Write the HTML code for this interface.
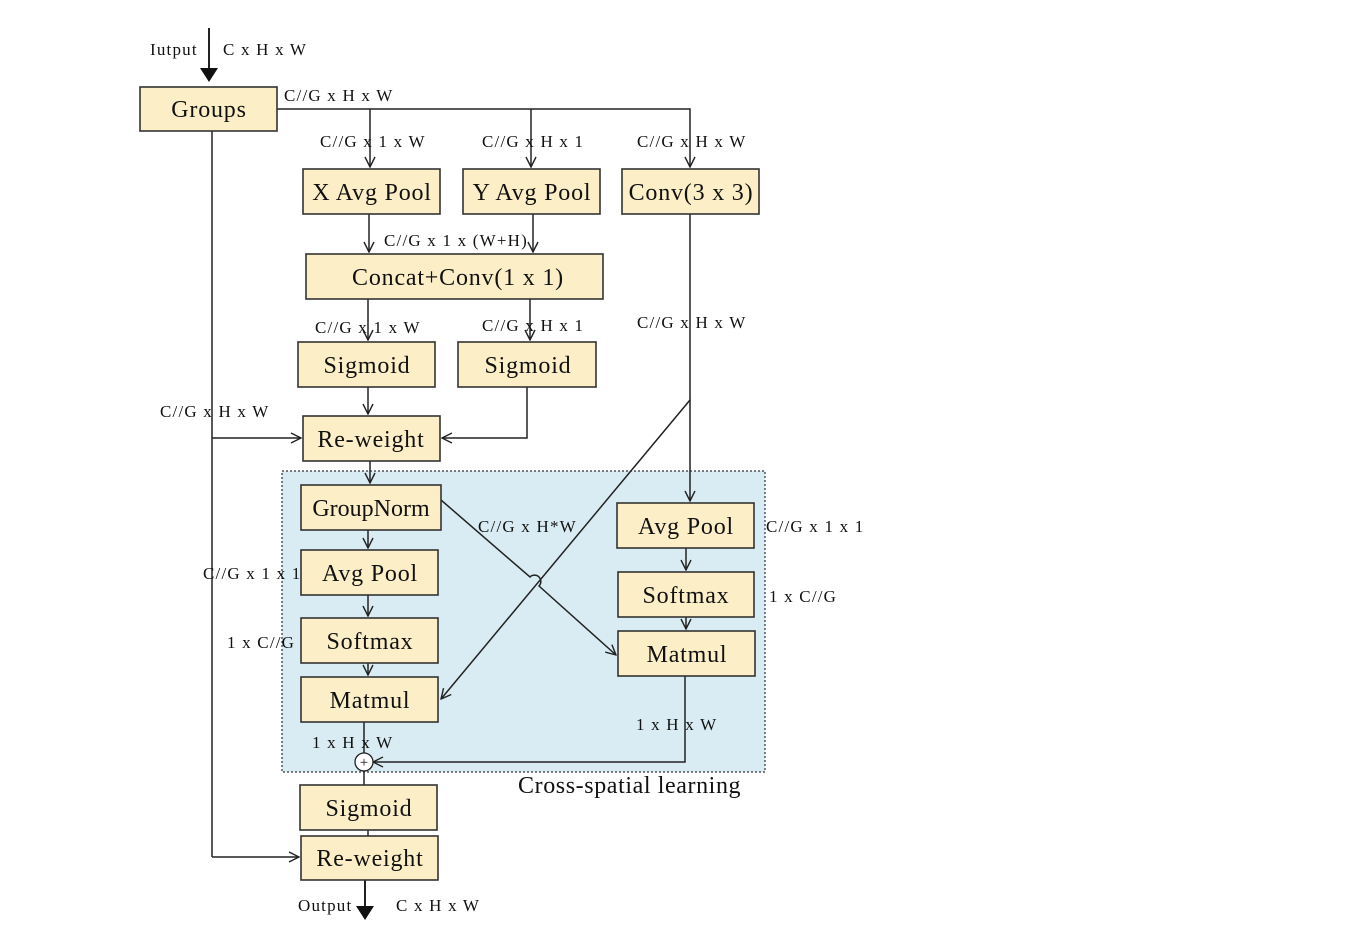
<!DOCTYPE html>
<html><head><meta charset="utf-8"><style>
html,body{margin:0;padding:0;background:#fff;}
svg{display:block;}
text{font-family:"Liberation Serif",serif;fill:#111;}
.l{font-size:17px;letter-spacing:1.2px;}
.b{font-size:24px;text-anchor:middle;letter-spacing:0.8px;}
rect.n{fill:#fcefc7;stroke:#333;stroke-width:1.6;}
line,polyline,path.w{stroke:#222;stroke-width:1.5;fill:none;}
</style></head><body>
<svg width="1354" height="940" viewBox="0 0 1354 940" xmlns="http://www.w3.org/2000/svg">
<defs>
<marker id="o" viewBox="0 0 12 12" refX="11" refY="6" markerWidth="12" markerHeight="12" markerUnits="userSpaceOnUse" orient="auto"><polyline points="1,1 11,6 1,11" style="stroke:#222;stroke-width:1.4;fill:none"/></marker>
<marker id="f" viewBox="0 0 14 20" refX="10" refY="10" markerWidth="14" markerHeight="20" markerUnits="userSpaceOnUse" orient="auto"><polygon points="0,1 14,10 0,19" fill="#111"/></marker>
</defs>
<rect x="282" y="471" width="483" height="301" fill="#d9ecf3" stroke="#333" stroke-width="1.2" stroke-dasharray="2,2"/>

<line x1="209" y1="28" x2="209" y2="78" style="stroke-width:2" marker-end="url(#f)"/>
<polyline points="277,109 690,109 690,167" marker-end="url(#o)"/>
<line x1="370" y1="109" x2="370" y2="167" marker-end="url(#o)"/>
<line x1="531" y1="109" x2="531" y2="167" marker-end="url(#o)"/>
<line x1="212" y1="131" x2="212" y2="857"/>
<line x1="212" y1="438" x2="301" y2="438" marker-end="url(#o)"/>
<line x1="212" y1="857" x2="299" y2="857" marker-end="url(#o)"/>
<line x1="369" y1="214" x2="369" y2="252" marker-end="url(#o)"/>
<line x1="533" y1="214" x2="533" y2="252" marker-end="url(#o)"/>
<line x1="368" y1="299" x2="368" y2="340" marker-end="url(#o)"/>
<line x1="530" y1="299" x2="530" y2="340" marker-end="url(#o)"/>
<line x1="368" y1="387" x2="368" y2="414" marker-end="url(#o)"/>
<polyline points="527,387 527,438 442,438" marker-end="url(#o)"/>
<line x1="370" y1="461" x2="370" y2="483" marker-end="url(#o)"/>
<line x1="368" y1="530" x2="368" y2="548" marker-end="url(#o)"/>
<line x1="368" y1="595" x2="368" y2="616" marker-end="url(#o)"/>
<line x1="368" y1="663" x2="368" y2="675" marker-end="url(#o)"/>
<line x1="690" y1="214" x2="690" y2="501" marker-end="url(#o)"/>
<line x1="690" y1="400" x2="441" y2="699" marker-end="url(#o)"/>
<path class="w" d="M441,500 L530,577 A6,6 0 0 1 539,586 L616,655" marker-end="url(#o)"/>
<line x1="686" y1="548" x2="686" y2="570" marker-end="url(#o)"/>
<line x1="686" y1="617" x2="686" y2="629" marker-end="url(#o)"/>
<polyline points="685,676 685,762 373,762" marker-end="url(#o)"/>
<line x1="364" y1="722" x2="364" y2="753"/>
<line x1="364" y1="771" x2="364" y2="785"/>
<line x1="368" y1="830" x2="368" y2="836"/>
<line x1="365" y1="880" x2="365" y2="916" style="stroke-width:2" marker-end="url(#f)"/>
<circle cx="364" cy="762" r="9" fill="#fff" stroke="#222" stroke-width="1.3"/>
<text x="364" y="767" style="font-size:15px;text-anchor:middle">+</text>

<rect class="n" x="140" y="87" width="137" height="44"/><text class="b" x="209" y="117">Groups</text>
<rect class="n" x="303" y="169" width="137" height="45"/><text class="b" x="372" y="200">X Avg Pool</text>
<rect class="n" x="463" y="169" width="137" height="45"/><text class="b" x="532" y="200">Y Avg Pool</text>
<rect class="n" x="622" y="169" width="137" height="45"/><text class="b" x="691" y="200">Conv(3 x 3)</text>
<rect class="n" x="306" y="254" width="297" height="45"/><text class="b" x="458" y="285">Concat+Conv(1 x 1)</text>
<rect class="n" x="298" y="342" width="137" height="45"/><text class="b" x="367" y="373">Sigmoid</text>
<rect class="n" x="458" y="342" width="138" height="45"/><text class="b" x="528" y="373">Sigmoid</text>
<rect class="n" x="303" y="416" width="137" height="45"/><text class="b" x="371" y="447">Re-weight</text>
<rect class="n" x="301" y="485" width="140" height="45"/><text class="b" x="371" y="516" style="letter-spacing:0">GroupNorm</text>
<rect class="n" x="301" y="550" width="137" height="45"/><text class="b" x="370" y="581">Avg Pool</text>
<rect class="n" x="301" y="618" width="137" height="45"/><text class="b" x="370" y="649">Softmax</text>
<rect class="n" x="301" y="677" width="137" height="45"/><text class="b" x="370" y="708">Matmul</text>
<rect class="n" x="617" y="503" width="137" height="45"/><text class="b" x="686" y="534">Avg Pool</text>
<rect class="n" x="618" y="572" width="136" height="45"/><text class="b" x="686" y="603">Softmax</text>
<rect class="n" x="618" y="631" width="137" height="45"/><text class="b" x="687" y="662">Matmul</text>
<rect class="n" x="300" y="785" width="137" height="45"/><text class="b" x="369" y="816">Sigmoid</text>
<rect class="n" x="301" y="836" width="137" height="44"/><text class="b" x="370" y="866">Re-weight</text>

<text class="l" x="150" y="55">Iutput</text>
<text class="l" x="223" y="55">C x H x W</text>
<text class="l" x="284" y="101">C//G x H x W</text>
<text class="l" x="320" y="147">C//G x 1 x W</text>
<text class="l" x="482" y="147">C//G x H x 1</text>
<text class="l" x="637" y="147">C//G x H x W</text>
<text class="l" x="384" y="246">C//G x 1 x (W+H)</text>
<text class="l" x="315" y="333">C//G x 1 x W</text>
<text class="l" x="482" y="331">C//G x H x 1</text>
<text class="l" x="637" y="328">C//G x H x W</text>
<text class="l" x="160" y="417">C//G x H x W</text>
<text class="l" x="478" y="532">C//G x H*W</text>
<text class="l" x="766" y="532">C//G x 1 x 1</text>
<text class="l" x="203" y="579">C//G x 1 x 1</text>
<text class="l" x="769" y="602">1 x C//G</text>
<text class="l" x="227" y="648">1 x C//G</text>
<text class="l" x="636" y="730">1 x H x W</text>
<text class="l" x="312" y="748">1 x H x W</text>
<text x="518" y="793" style="font-size:24px;letter-spacing:0.6px">Cross-spatial learning</text>
<text class="l" x="298" y="911">Output</text>
<text class="l" x="396" y="911">C x H x W</text>
</svg>
</body></html>
